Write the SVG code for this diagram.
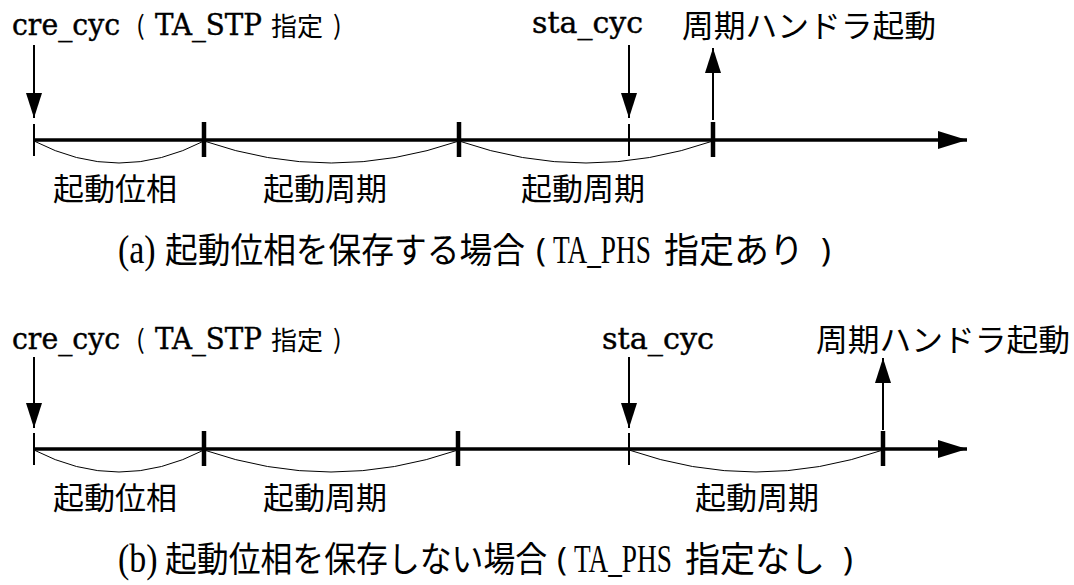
<svg xmlns="http://www.w3.org/2000/svg" width="1074" height="585" viewBox="0 0 1074 585">
<style>
.lat{font-family:"DejaVu Serif","Liberation Serif",serif;font-size:29px;fill:#000;stroke:#000;stroke-width:0.4}
.cjk{font-family:"Noto Sans CJK JP","Noto Sans",sans-serif;fill:#000;stroke:none}
.par{font-family:"Noto Sans","DejaVu Sans",sans-serif;font-size:33px;fill:#000}
.lbl{font-size:31px}
.sm{font-size:26px}
.ct{font-size:35px}
.capl{font-family:"Liberation Serif","Times New Roman",serif;font-size:39px;fill:#000}
.axis{stroke:#000;stroke-width:3.5;fill:none}
.tk{stroke:#000;stroke-width:2;fill:none}
.tkb{stroke:#000;stroke-width:4.5;fill:none}
.arr{stroke:#000;stroke-width:2;fill:none}
.arc{stroke:#000;stroke-width:1;fill:none}
</style>
<defs>
<marker id="ah" viewBox="0 0 25 16" refX="25" refY="8" markerWidth="25" markerHeight="16" markerUnits="userSpaceOnUse" orient="auto"><path d="M0,0 L25,8 L0,16 z" fill="#000"/></marker>
<marker id="axh" viewBox="0 0 29 18" refX="29" refY="9" markerWidth="29" markerHeight="18" markerUnits="userSpaceOnUse" orient="auto"><path d="M0,0 L29,9 L0,18 z" fill="#000"/></marker>
</defs>

<!-- (a) -->
<g id="a-label-cre">
<text class="lat" x="12" y="35" textLength="108" lengthAdjust="spacingAndGlyphs">cre_cyc</text>
<text class="cjk sm" x="136" y="35">(</text>
<text class="lat" x="155" y="35" textLength="107" lengthAdjust="spacingAndGlyphs">TA_STP</text>
<text class="cjk sm" x="271" y="36">指定</text>
<text class="cjk sm" x="333" y="35">)</text>
</g>
<g id="a-label-sta"><text class="lat" x="532" y="33" textLength="111" lengthAdjust="spacingAndGlyphs">sta_cyc</text></g>
<g id="a-label-handler"><text class="cjk lbl" x="682" y="37" textLength="254" lengthAdjust="spacingAndGlyphs">周期ハンドラ起動</text></g>
<g id="a-phase"><text class="cjk lbl" x="115" y="200" text-anchor="middle">起動位相</text></g>
<g id="a-period1"><text class="cjk lbl" x="325" y="200" text-anchor="middle">起動周期</text></g>
<g id="a-period2"><text class="cjk lbl" x="583" y="200" text-anchor="middle">起動周期</text></g>
<g id="a-caption">
<text class="capl" transform="translate(118,263) scale(0.87,1)">(a)</text>
<text class="cjk ct" transform="translate(165,263) scale(0.935,1)">起動位相を保存する場合</text>
<text class="par" x="536" y="262">(</text>
<text class="capl" transform="translate(553,263) scale(0.7,1)">TA_PHS</text>
<text class="cjk ct" x="664" y="263">指定あり</text>
<text class="par" x="821" y="262">)</text>
</g>

<g id="a-connectors">
<line class="axis" x1="34" y1="140" x2="967" y2="140" marker-end="url(#axh)"/>
<line class="tk" x1="34" y1="124" x2="34" y2="156"/>
<line class="tkb" x1="204" y1="122" x2="204" y2="157"/>
<line class="tkb" x1="459" y1="122" x2="459" y2="157"/>
<line class="tk" x1="629" y1="124" x2="629" y2="156"/>
<line class="tkb" x1="713" y1="122" x2="713" y2="157"/>
<line class="arr" x1="34" y1="45" x2="34" y2="118" marker-end="url(#ah)"/>
<line class="arr" x1="629" y1="45" x2="629" y2="118" marker-end="url(#ah)"/>
<line class="arr" x1="713" y1="120" x2="713" y2="48" marker-end="url(#ah)"/>
<path class="arc" d="M34,141 Q119,185 204,141"/>
<path class="arc" d="M204,141 Q331,185 459,141"/>
<path class="arc" d="M459,141 Q586,185 713,141"/>
</g>

<!-- (b) -->
<g id="b-label-cre">
<text class="lat" x="12" y="349" textLength="108" lengthAdjust="spacingAndGlyphs">cre_cyc</text>
<text class="cjk sm" x="136" y="349">(</text>
<text class="lat" x="155" y="349" textLength="107" lengthAdjust="spacingAndGlyphs">TA_STP</text>
<text class="cjk sm" x="271" y="350">指定</text>
<text class="cjk sm" x="333" y="349">)</text>
</g>
<g id="b-label-sta"><text class="lat" x="602" y="349" textLength="112" lengthAdjust="spacingAndGlyphs">sta_cyc</text></g>
<g id="b-label-handler"><text class="cjk lbl" x="816" y="351" textLength="254" lengthAdjust="spacingAndGlyphs">周期ハンドラ起動</text></g>
<g id="b-phase"><text class="cjk lbl" x="115" y="509" text-anchor="middle">起動位相</text></g>
<g id="b-period1"><text class="cjk lbl" x="325" y="509" text-anchor="middle">起動周期</text></g>
<g id="b-period2"><text class="cjk lbl" x="757" y="509" text-anchor="middle">起動周期</text></g>
<g id="b-caption">
<text class="capl" transform="translate(118,572) scale(0.87,1)">(b)</text>
<text class="cjk ct" transform="translate(165,572) scale(0.91,1)">起動位相を保存しない場合</text>
<text class="par" x="557" y="571">(</text>
<text class="capl" transform="translate(574,572) scale(0.7,1)">TA_PHS</text>
<text class="cjk ct" x="685" y="572">指定なし</text>
<text class="par" x="843" y="571">)</text>
</g>

<g id="b-connectors">
<line class="axis" x1="34" y1="449" x2="967" y2="449" marker-end="url(#axh)"/>
<line class="tk" x1="34" y1="433" x2="34" y2="465"/>
<line class="tkb" x1="204" y1="431" x2="204" y2="466"/>
<line class="tkb" x1="458" y1="431" x2="458" y2="466"/>
<line class="tk" x1="629" y1="433" x2="629" y2="465"/>
<line class="tkb" x1="883" y1="431" x2="883" y2="466"/>
<line class="arr" x1="34" y1="357" x2="34" y2="428" marker-end="url(#ah)"/>
<line class="arr" x1="629" y1="357" x2="629" y2="428" marker-end="url(#ah)"/>
<line class="arr" x1="883" y1="430" x2="883" y2="358" marker-end="url(#ah)"/>
<path class="arc" d="M34,450 Q119,494 204,450"/>
<path class="arc" d="M204,450 Q331,494 458,450"/>
<path class="arc" d="M629,450 Q756,494 883,450"/>
</g>
</svg>
